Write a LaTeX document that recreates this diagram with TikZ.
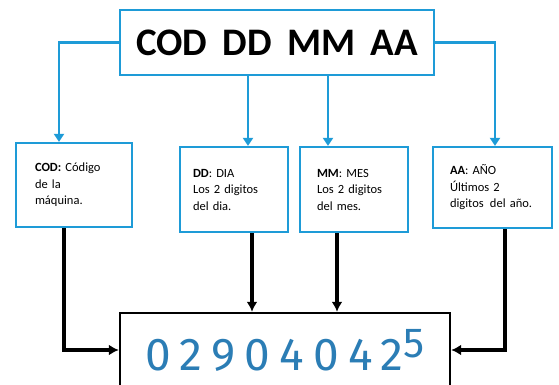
\documentclass[tikz,border=0pt]{standalone}
\usepackage{fontspec}
\setmainfont{Carlito}
\newfontfamily\digitfont[LetterSpace=20]{Fira Sans}
\usetikzlibrary{arrows.meta}
\definecolor{lineblue}{HTML}{1E9BD7}
\definecolor{digitblue}{HTML}{2B7DB5}

\begin{document}
\begin{tikzpicture}[x=1pt,y=-1pt]
\tikzstyle{codebox}=[draw=lineblue,line width=2.2pt,fill=white,font=\fontsize{12.5}{16.5}\selectfont,align=left,anchor=center]
\tikzstyle{bluearrow}=[draw=lineblue,line width=2.6pt,-{Triangle[width=10pt,length=8pt]}]
\tikzstyle{blackarrow}=[draw=black,line width=3.2pt,-{Latex[width=11pt,length=10pt]}]
\useasboundingbox (0,0) rectangle (559,385);
% nodes
\node[draw=lineblue,line width=2.2pt,minimum width=314pt,minimum height=65pt,
  font=\fontsize{39}{44}\selectfont\bfseries] (top) at (277,42.5) {COD\, DD\, MM\, AA};
\node[codebox,minimum width=116pt,minimum height=84pt,text width=78pt,inner xsep=19pt] (cod) at (74,185)
  {\textbf{COD:} Código\\de la\\máquina.};
\node[codebox,minimum width=108pt,minimum height=85pt,text width=82pt,inner xsep=13pt] (dd) at (234,189.5)
  {\textbf{DD}: DIA\\Los 2 digitos\\del dia.};
\node[codebox,minimum width=108pt,minimum height=85pt,text width=74pt,inner xsep=17pt] (mm) at (354,189.5)
  {\textbf{MM}: MES\\Los 2 digitos\\del mes.};
\node[codebox,minimum width=119pt,minimum height=81pt,text width=85pt,inner xsep=17pt] (aa) at (492.5,187.5)
  {\textbf{AA}: AÑO\\Últimos 2\\digitos\, del año.};
\node[draw=black,line width=2.4pt,minimum width=330pt,minimum height=74pt,text=digitblue,
  font=\fontsize{46}{50}\selectfont\digitfont] (out) at (285,350)
  {\raisebox{-4pt}{02904042}\raisebox{9pt}{\fontsize{42}{46}\selectfont 5}};
% blue arrows
\draw[bluearrow] (top.west) -| ([xshift=-15pt]cod.north);
\draw[bluearrow] (top.east) -| ([xshift=2.5pt]aa.north);
\draw[bluearrow] ([xshift=14pt]dd.north |- top.south) -- ([xshift=14pt]dd.north);
\draw[bluearrow] ([xshift=-26pt]mm.north |- top.south) -- ([xshift=-26pt]mm.north);
% black arrows
\draw[blackarrow] ([xshift=-10pt]cod.south) |- (out.west);
\draw[blackarrow] ([xshift=18pt]dd.south) -- ([xshift=18pt]dd.south |- out.north);
\draw[blackarrow] ([xshift=-17pt]mm.south) -- ([xshift=-17pt]mm.south |- out.north);
\draw[blackarrow] ([xshift=12.5pt]aa.south) |- (out.east);
\end{tikzpicture}
\end{document}
